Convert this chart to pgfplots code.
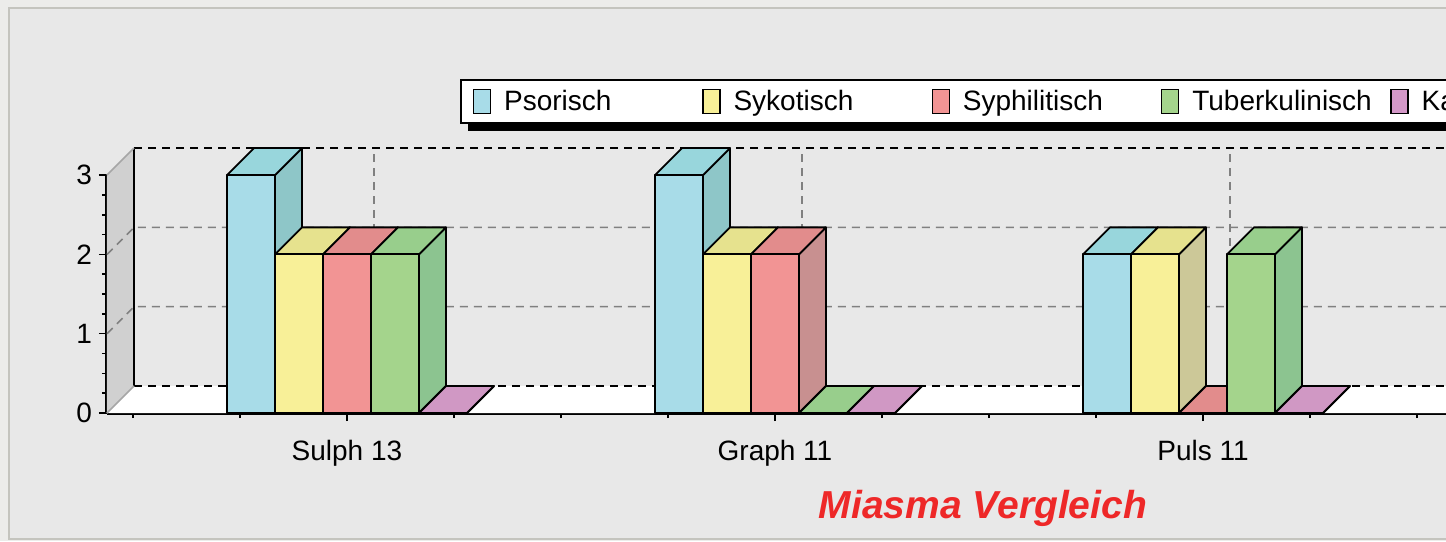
\documentclass[border=0pt]{standalone}
\usepackage{pgfplots}
\pgfplotsset{compat=1.18}
\usepackage{fontspec}
\setmainfont{Liberation Sans}

\definecolor{bgout}{RGB}{236,236,234}
\definecolor{bgin}{RGB}{232,232,232}
\definecolor{framec}{RGB}{196,196,190}
\definecolor{wallc}{RGB}{208,208,208}
\definecolor{gridc}{RGB}{128,128,128}
\definecolor{titlec}{RGB}{238,40,40}

\definecolor{cA}{RGB}{168,220,232}
\definecolor{cAtop}{RGB}{152,214,220}
\definecolor{cAside}{RGB}{142,198,200}
\definecolor{cB}{RGB}{248,240,152}
\definecolor{cBtop}{RGB}{230,226,142}
\definecolor{cBside}{RGB}{204,200,152}
\definecolor{cC}{RGB}{242,148,148}
\definecolor{cCtop}{RGB}{226,140,140}
\definecolor{cCside}{RGB}{200,144,144}
\definecolor{cD}{RGB}{164,212,140}
\definecolor{cDtop}{RGB}{152,206,140}
\definecolor{cDside}{RGB}{140,196,144}
\definecolor{cE}{RGB}{212,152,200}
\definecolor{cEtop}{RGB}{208,152,196}
\definecolor{cEside}{RGB}{184,144,176}

\def\bw{0.11215}
\def\dX{0.0631}
\def\dY{0.3405}

% #1 group, #2 index in group (0..4), #3 value, #4 colour
\newcommand{\tdbar}[4]{%
  \pgfmathsetmacro\xa{#1+(#2-2.5)*\bw}%
  \pgfmathsetmacro\xb{\xa+\bw}%
  \pgfmathsetmacro\xc{\xb+\dX}%
  \pgfmathsetmacro\xd{\xa+\dX}%
  \pgfmathsetmacro\vt{#3+\dY}%
  \addplot[forget plot, fill=#4side, draw=black, line width=0.9pt, line join=round]
    coordinates {(\xb,0) (\xc,\dY) (\xc,\vt) (\xb,#3)} -- cycle;
  \addplot[forget plot, fill=#4top, draw=black, line width=0.9pt, line join=round]
    coordinates {(\xa,#3) (\xb,#3) (\xc,\vt) (\xd,\vt)} -- cycle;
  \addplot[forget plot, fill=#4, draw=black, line width=0.9pt, line join=round]
    coordinates {(\xa,0) (\xb,0) (\xb,#3) (\xa,#3)} -- cycle;
}

\begin{document}
\begin{tikzpicture}
\useasboundingbox (0,0) rectangle (723pt,270.5pt);
\fill[bgout] (0,0) rectangle (723pt,270.5pt);
\clip (0,0) rectangle (723pt,270.5pt);
\fill[bgin] (4.5pt,1pt) rectangle (730pt,266.5pt);
\draw[framec, line width=1pt] (4.5pt,1pt) rectangle (730pt,266.5pt);
\begin{axis}[
  at={(53.5pt,64pt)}, anchor=south west,
  x=214pt, y=39.65pt,
  xmin=-0.5607, xmax=2.6, ymin=0, ymax=3,
  clip=false,
  axis x line*=bottom, axis y line*=left,
  axis line style={line width=2pt, black},
  tick align=outside,
  major tick length=4pt, minor tick length=2.5pt,
  tick style={black, line width=0.8pt},
  xtick={0,1,2},
  xticklabels={Sulph 13, Graph 11, Puls 11},
  minor xtick={-0.5,-0.25,0.25,0.5,0.75,1.25,1.5,1.75,2.25,2.5},
  ytick={0,1,2,3},
  minor y tick num=3,
  /pgf/number format/assume math mode=true,
  tick label style={font=\fontsize{14}{16}\selectfont},
  xticklabel style={yshift=-6pt},
  legend columns=-1,
  legend image code/.code={\draw[#1, draw=black, line width=0.7pt] (0pt,-6pt) rectangle (8.5pt,6pt);},
  legend style={at={(axis description cs:0.2609,1.404)}, anchor=north west,
    draw=black, line width=0.8pt, fill=white,
    inner xsep=6pt, inner ysep=4.5pt,
    nodes={inner sep=0pt},
    font=\fontsize{14}{16}\selectfont},
]
% left wall and floor
\addplot[forget plot, fill=wallc, draw=none] coordinates {(-0.5607,0) (-0.4976,0.3405) (-0.4976,3.3405) (-0.5607,3)} -- cycle;
\addplot[forget plot, fill=white, draw=none] coordinates {(-0.5607,0) (2.7,0) (2.7631,0.3405) (-0.4976,0.3405)} -- cycle;
% grid on walls
\addplot[forget plot, gridc, line width=0.8pt, dash pattern=on 4pt off 3pt] coordinates {(-0.5607,1) (-0.4976,1.3405) (2.8,1.3405)};
\addplot[forget plot, gridc, line width=0.8pt, dash pattern=on 4pt off 3pt] coordinates {(-0.5607,2) (-0.4976,2.3405) (2.8,2.3405)};
\addplot[forget plot, gridc, line width=0.8pt, dash pattern=on 4pt off 3pt] coordinates {(0.0631,0.3405) (0.0631,3.3405)};
\addplot[forget plot, gridc, line width=0.8pt, dash pattern=on 4pt off 3pt] coordinates {(1.0631,0.3405) (1.0631,3.3405)};
\addplot[forget plot, gridc, line width=0.8pt, dash pattern=on 4pt off 3pt] coordinates {(2.0631,0.3405) (2.0631,3.3405)};
\addplot[forget plot, black, line width=1pt, dash pattern=on 4pt off 3pt] coordinates {(-0.4976,3.3405) (2.8,3.3405)};
\addplot[forget plot, black, line width=1pt, dash pattern=on 4pt off 3pt] coordinates {(-0.4976,0.3405) (2.8,0.3405)};
\addplot[forget plot, black, line width=1.2pt] coordinates {(-0.4976,0.3405) (-0.4976,3.3405)};
\addplot[forget plot, gray!70, line width=0.8pt] coordinates {(-0.5607,3) (-0.4976,3.3405)};
\addplot[forget plot, gray!70, line width=0.8pt] coordinates {(-0.5607,0) (-0.4976,0.3405)};

% Sulph 13
\tdbar{0}{0}{3}{cA}
\tdbar{0}{1}{2}{cB}
\tdbar{0}{2}{2}{cC}
\tdbar{0}{3}{2}{cD}
\tdbar{0}{4}{0}{cE}
% Graph 11
\tdbar{1}{0}{3}{cA}
\tdbar{1}{1}{2}{cB}
\tdbar{1}{2}{2}{cC}
\tdbar{1}{3}{0}{cD}
\tdbar{1}{4}{0}{cE}
% Puls 11
\tdbar{2}{0}{2}{cA}
\tdbar{2}{1}{2}{cB}
\tdbar{2}{2}{0}{cC}
\tdbar{2}{3}{2}{cD}
\tdbar{2}{4}{0}{cE}

% legend shadow
\fill[black] (axis description cs:0.2669,1.1854) rectangle (axis description cs:1.2,1.33);

\addlegendimage{fill=cA}\addlegendentry{\makebox[105.5pt][l]{\hspace{6.5pt}Psorisch}}
\addlegendimage{fill=cB}\addlegendentry{\makebox[105.5pt][l]{\hspace{6.5pt}Sykotisch}}
\addlegendimage{fill=cC}\addlegendentry{\makebox[105.5pt][l]{\hspace{6.5pt}Syphilitisch}}
\addlegendimage{fill=cD}\addlegendentry{\makebox[105.5pt][l]{\hspace{6.5pt}Tuberkulinisch}}
\addlegendimage{fill=cE}\addlegendentry{\makebox[105.5pt][l]{\hspace{6.5pt}Karzinogen}}

\node[text=titlec, font=\fontsize{19.5}{22}\selectfont\bfseries\itshape] at (axis cs:1.486,-1.2) {Miasma Vergleich};
\end{axis}
\end{tikzpicture}
\end{document}
